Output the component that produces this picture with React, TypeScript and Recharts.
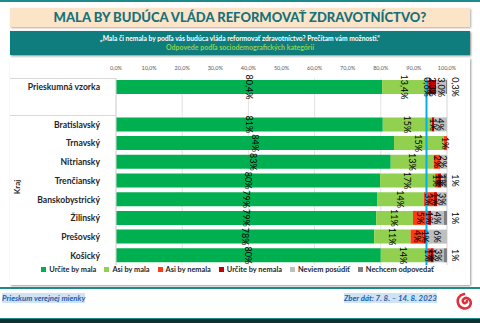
import { Bar, BarChart, CartesianGrid, LabelList, Legend, ReferenceLine, XAxis, YAxis } from 'recharts'

const categories = [
  'Prieskumná vzorka',
  ' ',
  'Bratislavský',
  'Trnavský',
  'Nitriansky',
  'Trenčiansky',
  'Banskobystrický',
  'Žilinský',
  'Prešovský',
  'Košický'
]

// percent per row, blank row is the spacer between total and regions
const urciteMala = [80.4, 0, 80.6, 84, 83, 79.8, 79, 78.6, 78, 80]
const asiMala = [13.4, 0, 14.8, 15, 13, 16.6, 14, 11.1, 11, 14]
const asiNemala = [0.6, 0, 0, 1, 2, 0.9, 3, 4.6, 4, 1]
const urciteNemala = [2.3, 0, 0.8, 0, 0, 0.9, 1, 0.9, 1, 1]
const neviem = [3.0, 0, 3.8, 0, 2, 0.9, 3, 3.9, 6, 3]
const nechcem = [0.3, 0, 0, 0, 0, 0.9, 0, 0.9, 0, 1]

const decimals = [1, 0, 0, 0, 0, 0, 0, 0, 0, 0]

const xTicks = [0, 10, 20, 30, 40, 50, 60, 70, 80, 90, 100]

const seriesNames = [
  'Určite by mala',
  'Asi by mala',
  'Asi by nemala',
  'Určite by nemala',
  'Neviem posúdiť',
  'Nechcem odpovedať'
]
const seriesColors = ['#00b050', '#92d050', '#ff3b14', '#c00000', '#bfbfbf', '#808080']
const seriesValues = [urciteMala, asiMala, asiNemala, urciteNemala, neviem, nechcem]

const FONT = 'Lato, "Open Sans", sans-serif'

const chartData = categories.map((name, i) => {
  const row: Record<string, string | number | null> = { name }
  seriesValues.forEach((vals, s) => {
    row[`s${s}`] = name.trim() === '' ? null : vals[i]
  })
  return row
})

const referenceX = urciteMala[0] + asiMala[0]

function formatValue(value: number, index: number): string {
  const d = decimals[index] ?? 0
  return value.toFixed(d).replace('.', ',') + '%'
}

function makeLabel(outside: boolean) {
  return (props: any) => {
    const { x, y, width, height, value, index } = props
    if (value === null || value === undefined || value === 0) return null
    const cx = outside ? Number(x) + Number(width) + 8 : Number(x) + Number(width) / 2
    const cy = Number(y) + Number(height) / 2
    return (
      <text
        x={cx}
        y={cy}
        transform={`rotate(90, ${cx}, ${cy})`}
        textAnchor="middle"
        dominantBaseline="central"
        fontSize={9}
        fontFamily={FONT}
        fill="#000"
      >
        {formatValue(Number(value), index)}
      </text>
    )
  }
}

function CategoryTick(props: any) {
  const { x, y, payload } = props
  return (
    <text
      x={x - 8}
      y={y}
      textAnchor="end"
      dominantBaseline="central"
      fontSize={8.6}
      fontWeight={700}
      fontFamily={FONT}
      fill="#262626"
    >
      {payload.value}
    </text>
  )
}

function LegendContent() {
  return (
    <div
      style={{
        display: 'flex',
        justifyContent: 'center',
        gap: 8,
        fontSize: 7.4,
        fontWeight: 700,
        fontFamily: FONT,
        color: '#262626',
        whiteSpace: 'nowrap',
        paddingLeft: 18
      }}
    >
      {seriesNames.map((name, s) => (
        <span key={name} style={{ display: 'inline-flex', alignItems: 'center' }}>
          <span style={{ width: 5, height: 5, background: seriesColors[s], marginRight: 3 }} />
          {name}
        </span>
      ))}
    </div>
  )
}

function Logo() {
  return (
    <svg width={16} height={20} viewBox="0 0 16 20" style={{ position: 'absolute', left: 456, top: 292 }}>
      <path
        d="M8 2 C3 3 1 7 2 11 C3 16 9 18 13 15 C16 12 15 7 11 6 C8 5.5 6 8 7 10 C8 12 11 11 11 9"
        fill="none"
        stroke="#e0303c"
        strokeWidth={2.6}
        strokeLinecap="round"
      />
    </svg>
  )
}

export default function App() {
  return (
    <div
      style={{
        position: 'absolute',
        left: 0,
        top: 0,
        width: 480,
        height: 323,
        background: '#ffffff',
        overflow: 'hidden',
        fontFamily: FONT
      }}
    >
      <div style={{ position: 'absolute', left: 0, top: 0, width: 480, height: 2, background: '#1f8a8c' }} />
      <div
        style={{
          position: 'absolute',
          left: 10,
          top: 8,
          width: 460,
          height: 19,
          background: '#fbe4c8',
          boxShadow: '1px 1px 2px #aaa',
          color: '#17717a',
          fontWeight: 900,
          fontSize: 13,
          lineHeight: '19px',
          textAlign: 'center'
        }}
      >
        MALA BY BUDÚCA VLÁDA REFORMOVAŤ ZDRAVOTNÍCTVO?
      </div>
      <div
        style={{
          position: 'absolute',
          left: 10,
          top: 31,
          width: 460,
          height: 24,
          background: '#0f7c7d',
          boxShadow: '1px 1px 2px #888',
          textAlign: 'center',
          fontWeight: 700,
          fontSize: 6.7
        }}
      >
        <div style={{ color: '#ffffff', marginTop: 3, lineHeight: '9px' }}>
          „Mala či nemala by podľa vás budúca vláda reformovať zdravotníctvo? Prečítam vám možnosti.“
        </div>
        <div style={{ color: '#92d050', lineHeight: '9px', fontSize: 7 }}>Odpovede podľa sociodemografických kategórií</div>
      </div>

      <div
        style={{
          position: 'absolute',
          left: 10,
          top: 58,
          width: 460,
          height: 227,
          background: '#fff',
          boxShadow: '1px 1px 2px #999'
        }}
      >
        <BarChart
          layout="vertical"
          width={460}
          height={229}
          data={chartData}
          margin={{ top: 4, right: 23, bottom: 4, left: 0 }}
          barSize={14}
        >
          <CartesianGrid horizontal={false} stroke="#e3e3e3" />
          <XAxis
            type="number"
            orientation="top"
            domain={[0, 100]}
            ticks={xTicks}
            height={16}
            axisLine={false}
            tickLine={false}
            tickMargin={2}
            tick={{ fontSize: 5.5, fill: '#595959', fontFamily: FONT }}
            tickFormatter={(v: number) => v.toFixed(1).replace('.', ',') + '%'}
          />
          <YAxis
            type="category"
            dataKey="name"
            width={106}
            axisLine={{ stroke: '#d9d9d9' }}
            tickLine={false}
            tick={<CategoryTick />}
            interval={0}
          />
          {seriesNames.map((name, s) => (
            <Bar
              key={name}
              dataKey={`s${s}`}
              name={name}
              stackId="a"
              fill={seriesColors[s]}
              isAnimationActive={false}
            >
              <LabelList dataKey={`s${s}`} content={makeLabel(s === seriesNames.length - 1)} />
            </Bar>
          ))}
          <ReferenceLine x={referenceX} stroke="#00b0f0" strokeWidth={2} />
          <Legend verticalAlign="bottom" height={18} content={<LegendContent />} />
        </BarChart>
        <div style={{ position: 'absolute', left: 0, top: 20, width: 106, height: 1, background: '#d9d9d9' }} />
        <div style={{ position: 'absolute', left: 0, top: 57, width: 106, height: 1, background: '#d9d9d9' }} />
        <div
          style={{
            position: 'absolute',
            left: 7,
            top: 129,
            fontSize: 8,
            fontWeight: 700,
            color: '#262626',
            transform: 'translate(-50%, -50%) rotate(-90deg)',
            transformOrigin: 'center'
          }}
        >
          Kraj
        </div>
      </div>

      <div style={{ position: 'absolute', left: 0, top: 287, width: 480, height: 2, background: '#1f8a8c' }} />
      <div
        style={{
          position: 'absolute',
          left: 2,
          top: 293,
          fontSize: 7.8,
          fontWeight: 700,
          fontStyle: 'italic',
          color: '#1f5fa8',
          background: '#cfe3f5',
          lineHeight: '10px'
        }}
      >
        Prieskum verejnej mienky
      </div>
      <div
        style={{
          position: 'absolute',
          left: 344,
          top: 293,
          fontSize: 7.8,
          fontWeight: 700,
          fontStyle: 'italic',
          color: '#1f5fa8',
          background: '#cfe3f5',
          lineHeight: '10px'
        }}
      >
        Zber dát: 7. 8. – 14. 8. 2023
      </div>
      <Logo />
      <div style={{ position: 'absolute', left: 0, top: 318, width: 480, height: 1, background: '#1f8a8c' }} />
      <div style={{ position: 'absolute', left: 0, top: 319, width: 480, height: 4, background: '#10302f' }} />
    </div>
  )
}
